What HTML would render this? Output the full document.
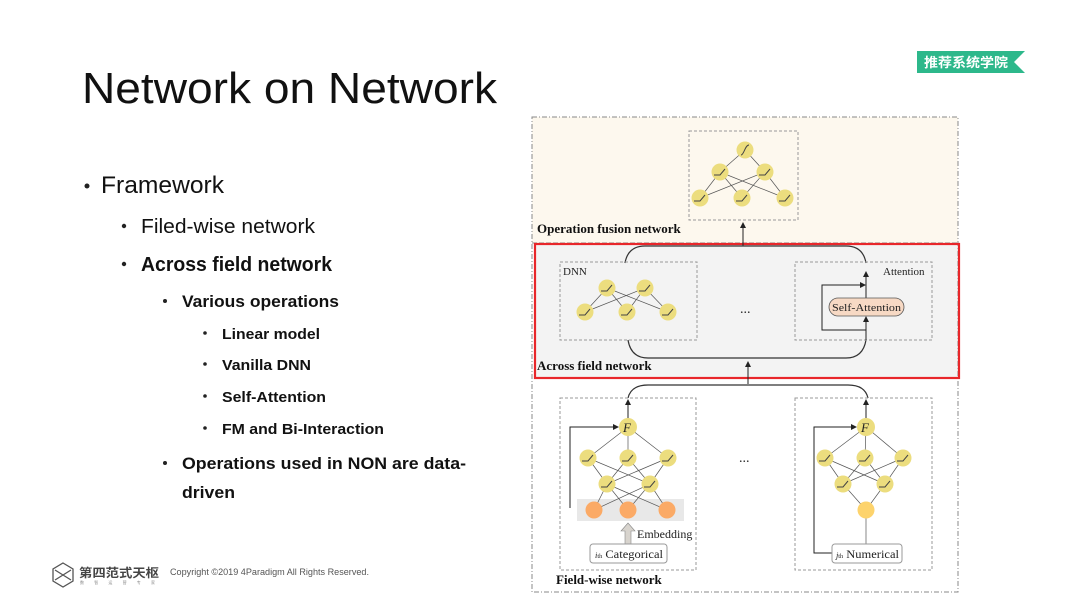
<!DOCTYPE html>
<html><head><meta charset="utf-8"><style>
html,body{margin:0;padding:0;background:#fff;}
svg{display:block;}
.s{font-family:"Liberation Sans","Noto Sans CJK SC",sans-serif;fill:#111;}
.r{font-family:"Liberation Serif",serif;fill:#222;}
</style></head><body>
<svg width="1080" height="606" viewBox="0 0 1080 606" xmlns="http://www.w3.org/2000/svg">
<defs>
<marker id="ar" markerWidth="6" markerHeight="6" refX="5" refY="3" orient="auto" markerUnits="userSpaceOnUse"><path d="M0,0 L6,3 L0,6 z" fill="#222"/></marker>
<g id="n"><circle r="8.5" fill="#ecdd7e"/><path d="M-6,3 L0,3 L5,-3" stroke="#444" stroke-width="1" fill="none"/></g>
</defs>
<!-- Left text -->
<text class="s" x="82" y="103" font-size="44" textLength="415" lengthAdjust="spacingAndGlyphs">Network on Network</text>
<circle cx="87" cy="186" r="2.5" fill="#222"/>
<text class="s" x="101" y="193" font-size="24" textLength="123" lengthAdjust="spacingAndGlyphs">Framework</text>
<circle cx="124" cy="226" r="2.2" fill="#222"/>
<text class="s" x="141" y="233" font-size="20" textLength="174" lengthAdjust="spacingAndGlyphs">Filed-wise network</text>
<circle cx="124" cy="264" r="2.2" fill="#222"/>
<text class="s" x="141" y="271" font-size="20" font-weight="bold" textLength="191" lengthAdjust="spacingAndGlyphs">Across field network</text>
<circle cx="165" cy="301" r="2" fill="#222"/>
<text class="s" x="182" y="307" font-size="17" font-weight="bold" textLength="157" lengthAdjust="spacingAndGlyphs">Various operations</text>
<circle cx="205" cy="333" r="1.8" fill="#222"/>
<text class="s" x="222" y="339" font-size="15" font-weight="bold" textLength="98" lengthAdjust="spacingAndGlyphs">Linear model</text>
<circle cx="205" cy="364" r="1.8" fill="#222"/>
<text class="s" x="222" y="370" font-size="15" font-weight="bold" textLength="89" lengthAdjust="spacingAndGlyphs">Vanilla DNN</text>
<circle cx="205" cy="396" r="1.8" fill="#222"/>
<text class="s" x="222" y="402" font-size="15" font-weight="bold" textLength="104" lengthAdjust="spacingAndGlyphs">Self-Attention</text>
<circle cx="205" cy="428" r="1.8" fill="#222"/>
<text class="s" x="222" y="434" font-size="15" font-weight="bold" textLength="162" lengthAdjust="spacingAndGlyphs">FM and Bi-Interaction</text>
<circle cx="165" cy="463" r="2" fill="#222"/>
<text class="s" x="182" y="469" font-size="17" font-weight="bold" textLength="284" lengthAdjust="spacingAndGlyphs">Operations used in NON are data-</text>
<text class="s" x="182" y="498" font-size="17" font-weight="bold" textLength="53" lengthAdjust="spacingAndGlyphs">driven</text>
<!-- badge -->
<path d="M917,51 L1025,51 L1014,62 L1025,73 L917,73 Z" fill="#2db88b"/>
<text x="924" y="67" font-size="13" font-weight="bold" fill="#fff" font-family="'Noto Sans CJK SC',sans-serif" textLength="84" lengthAdjust="spacingAndGlyphs">推荐系统学院</text>
<!-- footer -->
<path d="M63,563 L73,569 L73,581 L63,587 L53,581 L53,569 Z" fill="none" stroke="#555" stroke-width="1.3"/>
<path d="M55,570 L71,580 M71,570 L55,580" stroke="#555" stroke-width="1.3"/>
<text x="79" y="577" font-size="12" font-weight="bold" fill="#444" font-family="'Noto Sans CJK SC',sans-serif" textLength="80" lengthAdjust="spacingAndGlyphs">第四范式天枢</text>
<text x="80" y="584" font-size="4" fill="#888" font-family="'Noto Sans CJK SC',sans-serif" textLength="75">数 智 运 营 专 家</text>
<text class="s" x="170" y="575" font-size="9" style="fill:#555" textLength="199" lengthAdjust="spacingAndGlyphs">Copyright ©2019 4Paradigm All Rights Reserved.</text>
<!-- diagram backgrounds -->
<rect x="532" y="117" width="426" height="126" fill="#fdf8ee"/>
<rect x="535" y="244" width="424" height="134" fill="#f3f3f3"/>
<rect x="532" y="117" width="426" height="475" fill="none" stroke="#888" stroke-dasharray="5,2,1,2"/>
<line x1="532" y1="243" x2="958" y2="243" stroke="#888" stroke-dasharray="5,2"/>
<rect x="535" y="244" width="424" height="134" fill="none" stroke="#e8262a" stroke-width="2.2"/>
<!-- fusion -->
<rect x="689" y="131" width="109" height="89" fill="none" stroke="#999" stroke-dasharray="3,2"/>
<g stroke="#555" stroke-width="0.7">
<line x1="745" y1="150" x2="720" y2="172"/><line x1="745" y1="150" x2="765" y2="172"/>
<line x1="720" y1="172" x2="700" y2="198"/><line x1="720" y1="172" x2="742" y2="198"/><line x1="720" y1="172" x2="785" y2="198"/>
<line x1="765" y1="172" x2="700" y2="198"/><line x1="765" y1="172" x2="742" y2="198"/><line x1="765" y1="172" x2="785" y2="198"/>
</g>
<circle cx="745" cy="150" r="8.5" fill="#ecdd7e"/><path d="M741,155 C744,155 745,145 749,145" stroke="#444" fill="none"/>
<use href="#n" x="720" y="172"/><use href="#n" x="765" y="172"/>
<use href="#n" x="700" y="198"/><use href="#n" x="742" y="198"/><use href="#n" x="785" y="198"/>
<text class="r" x="537" y="233" font-size="13" font-weight="bold" style="fill:#111">Operation fusion network</text>
<line x1="743" y1="246" x2="743" y2="223" stroke="#222" marker-end="url(#ar)"/>
<!-- across -->
<path d="M625,263 Q628,246 645,246 L846,246 Q863,246 866,263" fill="none" stroke="#333" stroke-width="1.2"/>
<path d="M628,340 Q631,358 648,358 L846,358 Q863,358 866,340" fill="none" stroke="#333" stroke-width="1.2"/>
<rect x="560" y="262" width="137" height="78" fill="none" stroke="#999" stroke-dasharray="3,2"/>
<rect x="795" y="262" width="137" height="78" fill="none" stroke="#999" stroke-dasharray="3,2"/>
<text class="r" x="563" y="275" font-size="11">DNN</text>
<text class="r" x="883" y="275" font-size="11">Attention</text>
<g stroke="#555" stroke-width="0.7">
<line x1="607" y1="288" x2="585" y2="312"/><line x1="607" y1="288" x2="627" y2="312"/><line x1="607" y1="288" x2="668" y2="312"/>
<line x1="645" y1="288" x2="585" y2="312"/><line x1="645" y1="288" x2="627" y2="312"/><line x1="645" y1="288" x2="668" y2="312"/>
</g>
<use href="#n" x="607" y="288"/><use href="#n" x="645" y="288"/>
<use href="#n" x="585" y="312"/><use href="#n" x="627" y="312"/><use href="#n" x="668" y="312"/>
<text class="r" x="740" y="313" font-size="14">...</text>
<line x1="866" y1="340" x2="866" y2="317" stroke="#222" marker-end="url(#ar)"/>
<line x1="866" y1="298" x2="866" y2="272" stroke="#222" marker-end="url(#ar)"/>
<path d="M866,330 L822,330 L822,285 L865,285" fill="none" stroke="#222" marker-end="url(#ar)"/>
<rect x="829" y="298" width="75" height="18" rx="9" fill="#f7d9c4" stroke="#555" stroke-width="0.8"/>
<text class="r" x="832" y="311" font-size="11" textLength="69" lengthAdjust="spacingAndGlyphs">Self-Attention</text>
<text class="r" x="537" y="370" font-size="13" font-weight="bold" style="fill:#111">Across field network</text>
<line x1="748" y1="384" x2="748" y2="362" stroke="#222" marker-end="url(#ar)"/>
<!-- field-wise -->
<path d="M628,398 Q631,385 648,385 L848,385 Q865,385 868,398" fill="none" stroke="#333" stroke-width="1.2"/>
<rect x="560" y="398" width="136" height="172" fill="none" stroke="#999" stroke-dasharray="3,2"/>
<rect x="795" y="398" width="137" height="172" fill="none" stroke="#999" stroke-dasharray="3,2"/>
<line x1="628" y1="418" x2="628" y2="400" stroke="#222" marker-end="url(#ar)"/>
<line x1="866" y1="418" x2="866" y2="400" stroke="#222" marker-end="url(#ar)"/>
<rect x="577" y="499" width="107" height="22" fill="#e8e8e8"/>
<g stroke="#555" stroke-width="0.7">
<line x1="628" y1="427" x2="588" y2="458"/><line x1="628" y1="427" x2="628" y2="458"/><line x1="628" y1="427" x2="668" y2="458"/>
<line x1="588" y1="458" x2="607" y2="484"/><line x1="588" y1="458" x2="650" y2="484"/>
<line x1="628" y1="458" x2="607" y2="484"/><line x1="628" y1="458" x2="650" y2="484"/>
<line x1="668" y1="458" x2="607" y2="484"/><line x1="668" y1="458" x2="650" y2="484"/>
<line x1="607" y1="484" x2="594" y2="510"/><line x1="607" y1="484" x2="628" y2="510"/><line x1="607" y1="484" x2="667" y2="510"/>
<line x1="650" y1="484" x2="594" y2="510"/><line x1="650" y1="484" x2="628" y2="510"/><line x1="650" y1="484" x2="667" y2="510"/>
<line x1="866" y1="427" x2="825" y2="458"/><line x1="866" y1="427" x2="865" y2="458"/><line x1="866" y1="427" x2="903" y2="458"/>
<line x1="825" y1="458" x2="843" y2="484"/><line x1="825" y1="458" x2="885" y2="484"/>
<line x1="865" y1="458" x2="843" y2="484"/><line x1="865" y1="458" x2="885" y2="484"/>
<line x1="903" y1="458" x2="843" y2="484"/><line x1="903" y1="458" x2="885" y2="484"/>
<line x1="843" y1="484" x2="866" y2="510"/><line x1="885" y1="484" x2="866" y2="510"/>
<line x1="866" y1="510" x2="866" y2="545"/>
</g>
<circle cx="628" cy="427" r="9" fill="#ecdd7e"/><text class="r" x="623" y="432" font-size="13" font-style="italic">F</text>
<circle cx="866" cy="427" r="9" fill="#ecdd7e"/><text class="r" x="861" y="432" font-size="13" font-style="italic">F</text>
<use href="#n" x="588" y="458"/><use href="#n" x="628" y="458"/><use href="#n" x="668" y="458"/>
<use href="#n" x="607" y="484"/><use href="#n" x="650" y="484"/>
<use href="#n" x="825" y="458"/><use href="#n" x="865" y="458"/><use href="#n" x="903" y="458"/>
<use href="#n" x="843" y="484"/><use href="#n" x="885" y="484"/>
<circle cx="594" cy="510" r="8.5" fill="#fbaa66"/><circle cx="628" cy="510" r="8.5" fill="#fbaa66"/><circle cx="667" cy="510" r="8.5" fill="#fbaa66"/>
<circle cx="866" cy="510" r="8.5" fill="#fdd36c"/>
<path d="M570,508 L570,427 L618,427" fill="none" stroke="#222" marker-end="url(#ar)"/>
<path d="M832,553 L814,553 L814,427 L856,427" fill="none" stroke="#222" marker-end="url(#ar)"/>
<path d="M625,544 L625,531 L621,531 L628,523 L635,531 L631,531 L631,544 Z" fill="#d8d4ce" stroke="#888" stroke-width="0.6"/>
<text class="r" x="637" y="538" font-size="12">Embedding</text>
<rect x="590" y="544" width="77" height="19" rx="3" fill="#fff" stroke="#999"/>
<text class="r" x="595" y="558" font-size="12" textLength="68" lengthAdjust="spacingAndGlyphs"><tspan font-style="italic" font-size="8">i</tspan><tspan font-size="6">th</tspan> Categorical</text>
<rect x="832" y="544" width="70" height="19" rx="3" fill="#fff" stroke="#999"/>
<text class="r" x="836" y="558" font-size="12" textLength="63" lengthAdjust="spacingAndGlyphs"><tspan font-style="italic" font-size="8">j</tspan><tspan font-size="6">th</tspan> Numerical</text>
<text class="r" x="739" y="462" font-size="14">...</text>
<text class="r" x="556" y="584" font-size="13" font-weight="bold" style="fill:#111">Field-wise network</text>
</svg>
</body></html>
